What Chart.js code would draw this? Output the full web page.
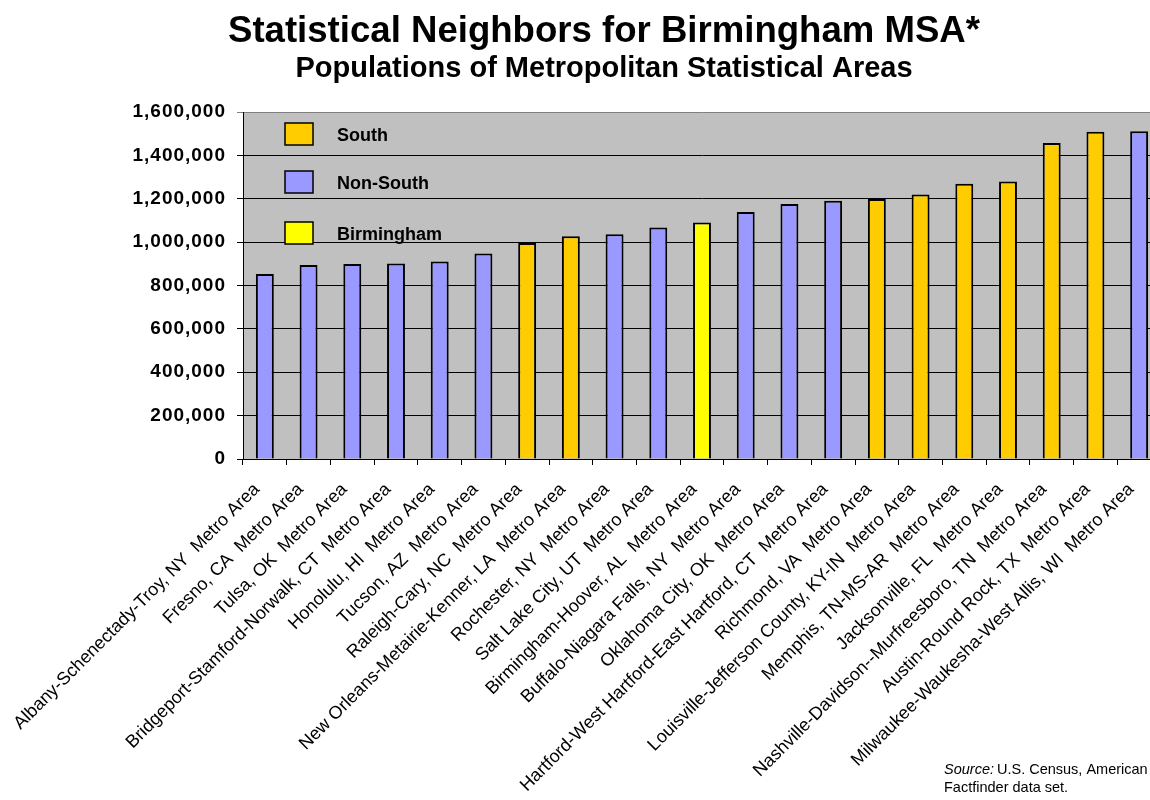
<!DOCTYPE html>
<html>
<head>
<meta charset="utf-8">
<script src="https://cdn.jsdelivr.net/npm/chart.js@4"></script>
<style>
  html, body { margin: 0; padding: 0; background: #fff; overflow: hidden; }
  #wrap { width: 1208px; height: 800px; }
</style>
</head>
<body>
<div id="wrap"><canvas id="msa" width="1208" height="800"></canvas></div>
<script>
// metro areas, smallest to largest
const areas = [
  'Albany-Schenectady-Troy, NY  Metro Area',
  'Fresno, CA  Metro Area',
  'Tulsa, OK  Metro Area',
  'Bridgeport-Stamford-Norwalk, CT  Metro Area',
  'Honolulu, HI  Metro Area',
  'Tucson, AZ  Metro Area',
  'Raleigh-Cary, NC  Metro Area',
  'New Orleans-Metairie-Kenner, LA  Metro Area',
  'Rochester, NY  Metro Area',
  'Salt Lake City, UT  Metro Area',
  'Birmingham-Hoover, AL  Metro Area',
  'Buffalo-Niagara Falls, NY  Metro Area',
  'Oklahoma City, OK  Metro Area',
  'Hartford-West Hartford-East Hartford, CT  Metro Area',
  'Richmond, VA  Metro Area',
  'Louisville-Jefferson County, KY-IN  Metro Area',
  'Memphis, TN-MS-AR  Metro Area',
  'Jacksonville, FL  Metro Area',
  'Nashville-Davidson--Murfreesboro, TN  Metro Area',
  'Austin-Round Rock, TX  Metro Area',
  'Milwaukee-Waukesha-West Allis, WI  Metro Area'
]
const population = [
  853000, 894000, 899000, 902000, 911000, 948000, 996000,
  1027000, 1036000, 1068000, 1090000, 1139000, 1176000, 1191000,
  1199000, 1220000, 1269000, 1279000, 1457000, 1509000, 1511000
]
// S = South, N = Non-South, B = Birmingham
const region = [
  'N', 'N', 'N', 'N', 'N', 'N', 'S',
  'S', 'N', 'N', 'B', 'N', 'N', 'N',
  'S', 'S', 'S', 'S', 'S', 'S', 'N'
]
const groupKeys = ['S', 'N', 'B']
const groupNames = ['South', 'Non-South', 'Birmingham']
const groupColors = ['#FFCC00', '#9999FF', '#FFFF00']
const yTicks = [0, 200000, 400000, 600000, 800000, 1000000, 1200000, 1400000, 1600000]

const titleText = 'Statistical Neighbors for Birmingham MSA*'
const subtitleText = 'Populations of Metropolitan Statistical Areas'

const FONT = 'Arial, "Liberation Sans", sans-serif'
const colorOf = (r) => groupColors[groupKeys.indexOf(r)]

// gray plot background
const plotBg = {
    id: 'plotBg',
    beforeDraw(chart) {
        const { ctx, chartArea: a } = chart
        ctx.save()
        ctx.fillStyle = '#C0C0C0'
        ctx.fillRect(a.left, a.top, a.right - a.left, a.bottom - a.top)
        ctx.restore()
    },
    // y tick labels are drawn after the bars (z: 1), a bit spaced out like the original
    afterDatasetsDraw(chart) {
        chart.ctx.letterSpacing = '1px'
    }
}

// titles, legend inside the plot, source note
const extras = {
    id: 'extras',
    afterDraw(chart) {
        const { ctx } = chart
        ctx.letterSpacing = '0px'
        ctx.save()
        ctx.fillStyle = '#000'
        ctx.textAlign = 'center'
        ctx.textBaseline = 'alphabetic'
        ctx.font = 'bold 36.6px ' + FONT
        ctx.fillText(titleText, 604, 42)
        ctx.font = 'bold 29px ' + FONT
        ctx.fillText(subtitleText, 604, 77)

        // legend
        ctx.textAlign = 'left'
        ctx.textBaseline = 'middle'
        ctx.font = 'bold 18px ' + FONT
        const rows = [134, 182, 233]
        groupNames.forEach((name, i) => {
            ctx.fillStyle = groupColors[i]
            ctx.fillRect(285, rows[i] - 11, 28, 22)
            ctx.lineWidth = 1.5
            ctx.strokeStyle = '#000'
            ctx.strokeRect(285, rows[i] - 11, 28, 22)
            ctx.fillStyle = '#000'
            ctx.fillText(name, 337, rows[i] + 2)
        })

        // source
        ctx.textBaseline = 'alphabetic'
        ctx.font = 'italic 14.5px ' + FONT
        ctx.fillText('Source:', 944, 774)
        const w = ctx.measureText('Source:').width
        ctx.font = '14.5px ' + FONT
        ctx.fillText('U.S. Census, American', 944 + w + 3, 774)
        ctx.fillText('Factfinder data set.', 944, 792)
        ctx.restore()
    }
}

const chart = new Chart(document.getElementById('msa'), {
    type: 'bar',
    data: {
        labels: areas,
        datasets: [{
            data: population,
            backgroundColor: region.map(colorOf),
            borderColor: '#000',
            borderWidth: 2,
            categoryPercentage: 1,
            barPercentage: 0.41
        }]
    },
    options: {
        responsive: false,
        animation: false,
        layout: { padding: { left: 0, right: 47, top: 112, bottom: 0 } },
        plugins: {
            legend: { display: false },
            title: { display: false },
            tooltip: { enabled: false }
        },
        scales: {
            x: {
                afterFit(scale) { scale.height = 341 },
                border: { color: '#000', width: 1 },
                grid: { drawOnChartArea: false, color: '#000', tickLength: 6, offset: true },
                ticks: {
                    autoSkip: false,
                    minRotation: 45,
                    maxRotation: 45,
                    color: '#000',
                    labelOffset: -8,
                    padding: 14,
                    font: { family: FONT, size: 18 }
                }
            },
            y: {
                min: 0,
                max: 1600000,
                afterFit(scale) { scale.width = 243 },
                afterBuildTicks(scale) { scale.ticks = yTicks.map(v => ({ value: v })) },
                border: { color: '#000', width: 1 },
                grid: {
                    color: (c) => c.tick && c.tick.value === 1600000 ? '#808080' : '#000',
                    lineWidth: 1,
                    tickLength: 6
                },
                ticks: {
                    z: 1,
                    color: '#000',
                    padding: 11,
                    callback: (v) => v.toLocaleString('en-US'),
                    font: { family: FONT, size: 19, weight: 'bold' }
                }
            }
        }
    },
    plugins: [plotBg, extras]
})
</script>
</body>
</html>
